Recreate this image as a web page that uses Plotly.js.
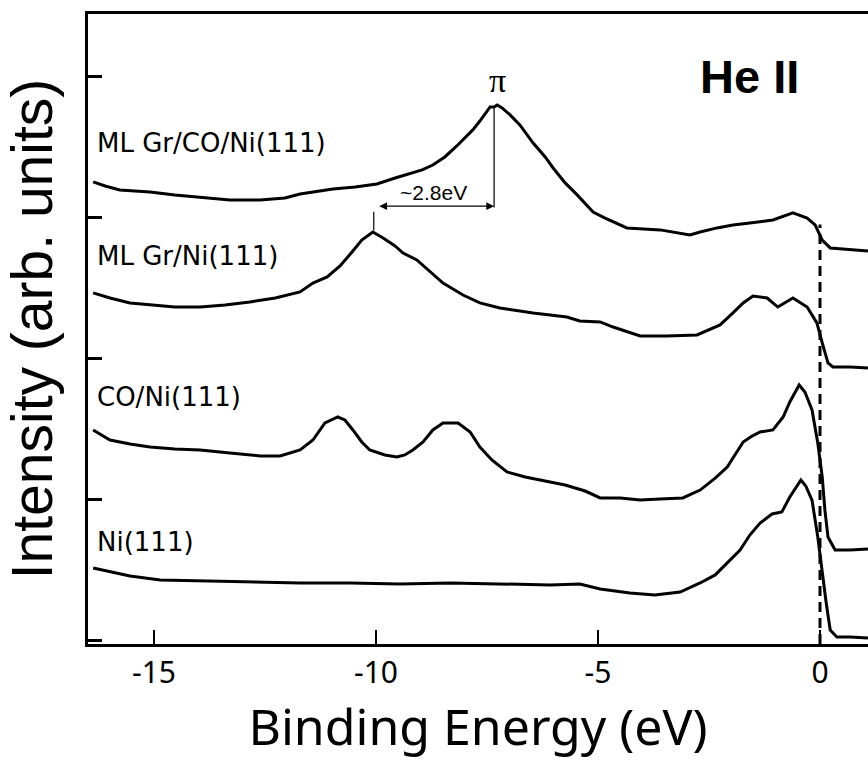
<!DOCTYPE html>
<html>
<head>
<meta charset="utf-8">
<script src="https://cdn.plot.ly/plotly-3.0.1.min.js"></script>
<style>html,body{margin:0;padding:0;background:#fff;}#chart{width:868px;height:762px;}</style>
</head>
<body>
<div id="chart"></div>
<script>
// Binding energy (eV) and intensity (arb. units, stacked with offsets)
const niX = [-16.37,-15.99,-15.54,-14.86,-13.96,-12.84,-11.71,-10.59,-9.46,-8.33,-7.21,-6.08,-5.41,-4.95,-4.28,-3.72,-3.15,-2.70,-2.36,-2.09,-1.80,-1.58,-1.35,-1.08,-0.86,-0.68,-0.54,-0.43,-0.32,-0.18,-0.05,0.05,0.14,0.23,0.38,0.68,1.08];
const niY = [0.514,0.486,0.457,0.429,0.422,0.415,0.408,0.408,0.401,0.408,0.401,0.394,0.401,0.365,0.337,0.323,0.344,0.408,0.465,0.550,0.642,0.748,0.833,0.897,0.911,1.018,1.089,1.138,1.096,0.996,0.734,0.479,0.266,0.074,0.025,0.025,0.018];

const coX = [-16.37,-15.99,-15.54,-15.09,-14.53,-13.96,-13.29,-12.61,-12.16,-11.71,-11.42,-11.15,-10.86,-10.70,-10.52,-10.32,-10.14,-9.80,-9.53,-9.35,-9.17,-8.94,-8.72,-8.49,-8.15,-7.88,-7.66,-7.39,-7.05,-6.64,-6.19,-5.74,-5.29,-4.95,-4.50,-4.05,-3.60,-3.09,-2.70,-2.36,-2.09,-1.87,-1.73,-1.53,-1.35,-1.06,-0.83,-0.68,-0.56,-0.47,-0.34,-0.18,-0.05,0.05,0.11,0.18,0.34,0.68,1.08];
const coY = [1.493,1.422,1.394,1.372,1.358,1.351,1.330,1.309,1.309,1.351,1.422,1.543,1.585,1.564,1.493,1.408,1.351,1.316,1.301,1.316,1.351,1.408,1.493,1.543,1.543,1.479,1.372,1.280,1.195,1.160,1.131,1.103,1.060,1.011,1.011,0.996,1.004,1.011,1.067,1.152,1.230,1.337,1.408,1.450,1.479,1.493,1.585,1.692,1.762,1.812,1.762,1.635,1.401,1.160,0.926,0.734,0.642,0.642,0.649];

const grX = [-16.37,-15.99,-15.54,-15.09,-14.53,-13.96,-13.40,-12.84,-12.27,-11.71,-11.42,-11.10,-10.81,-10.54,-10.32,-10.07,-9.84,-9.57,-9.39,-9.08,-8.78,-8.49,-8.04,-7.66,-7.21,-6.46,-5.70,-5.41,-4.95,-4.66,-4.05,-3.45,-2.77,-2.25,-1.96,-1.73,-1.51,-1.19,-0.95,-0.61,-0.29,-0.07,0.05,0.18,0.29,0.68,1.08];
const grY = [2.465,2.429,2.394,2.379,2.365,2.365,2.379,2.401,2.429,2.472,2.535,2.578,2.656,2.755,2.840,2.897,2.855,2.798,2.748,2.699,2.613,2.535,2.450,2.394,2.358,2.323,2.294,2.266,2.259,2.223,2.160,2.160,2.167,2.238,2.323,2.394,2.443,2.429,2.365,2.429,2.365,2.252,2.110,1.968,1.940,1.940,1.933];

const grcoX = [-16.37,-16.10,-15.77,-15.09,-14.53,-13.96,-13.29,-12.61,-12.05,-11.71,-10.97,-10.47,-9.98,-9.57,-9.23,-8.96,-8.72,-8.45,-8.18,-8.00,-7.82,-7.66,-7.52,-7.43,-7.34,-7.27,-7.16,-6.98,-6.76,-6.46,-6.19,-6.01,-5.74,-5.47,-5.11,-4.84,-4.35,-3.60,-2.93,-2.70,-2.32,-1.96,-1.58,-1.06,-0.61,-0.29,-0.11,0.05,0.23,0.68,1.08];
const grcoY = [3.252,3.223,3.195,3.181,3.160,3.145,3.124,3.124,3.138,3.167,3.202,3.216,3.238,3.280,3.309,3.337,3.372,3.429,3.507,3.564,3.621,3.684,3.748,3.784,3.784,3.798,3.777,3.727,3.656,3.528,3.429,3.351,3.245,3.160,3.039,2.996,2.926,2.912,2.876,2.897,2.926,2.947,2.961,2.982,3.032,2.996,2.947,2.840,2.784,2.770,2.762];

const seriesNames = ["Ni(111)", "CO/Ni(111)", "ML Gr/Ni(111)", "ML Gr/CO/Ni(111)"];
const labelY = [0.70, 1.73, 2.73, 3.53];
const labelX = -16.33;
const yTicks = [0, 1, 2, 3, 4];
const xTicks = [-15, -10, -5, 0];
const xTickText = ["-15", "-10", "-5", "0"];

// annotation marks (π peak, Gr/Ni peak, separation, Fermi level)
const piPeakX = -7.34, grPeakX = -10.05;
const arrowY = 3.08;
const fermiTop = 2.95;

const xs = [niX, coX, grX, grcoX];
const ys = [niY, coY, grY, grcoY];
const traces = xs.map((x, i) => ({
  x: x, y: ys[i], type: 'scatter', mode: 'lines', name: seriesNames[i],
  line: {color: '#000', width: 3}, showlegend: false, hoverinfo: 'skip'
}));

const labelFont = {family: 'DejaVu Sans', size: 26, color: '#000'};
const annotations = seriesNames.map((t, i) => ({
  x: labelX, y: labelY[i], xref: 'x', yref: 'y', text: t, showarrow: false,
  xanchor: 'left', yanchor: 'middle', font: labelFont
}));
annotations.push({x: piPeakX + 0.07, y: 3.97, xref: 'x', yref: 'y', text: 'π', showarrow: false,
  xanchor: 'center', yanchor: 'middle', font: {family: 'Liberation Serif', size: 34, color: '#000'}});
annotations.push({x: (piPeakX + grPeakX) / 2, y: 3.18, xref: 'x', yref: 'y', text: '~2.8eV', showarrow: false,
  xanchor: 'center', yanchor: 'middle', font: {family: 'Liberation Sans', size: 21, color: '#000'}});
annotations.push({x: piPeakX, y: arrowY, ax: grPeakX + 0.09, ay: arrowY, xref: 'x', yref: 'y', axref: 'x', ayref: 'y',
  text: '', showarrow: true, arrowside: 'end+start', arrowhead: 2, arrowsize: 1.3, arrowwidth: 1.2, arrowcolor: '#000'});
annotations.push({x: -1.58, y: 4.0, xref: 'x', yref: 'y', text: 'He II', showarrow: false,
  xanchor: 'center', yanchor: 'middle', font: {family: 'Liberation Sans', size: 47, color: '#000', weight: 'bold'}});

const shapes = [
  {type: 'line', xref: 'x', yref: 'y', x0: piPeakX, x1: piPeakX, y0: 3.07, y1: 3.78, line: {color: '#000', width: 1.2}},
  {type: 'line', xref: 'x', yref: 'y', x0: grPeakX, x1: grPeakX, y0: 2.91, y1: 3.04, line: {color: '#000', width: 1.2}},
  {type: 'line', xref: 'x', yref: 'y', x0: 0, x1: 0, y0: -0.025, y1: fermiTop, line: {color: '#000', width: 3, dash: '10px,6px'}}
];

const layout = {
  width: 868, height: 762,
  margin: {l: 88, r: 0, t: 14, b: 118, pad: 0},
  paper_bgcolor: '#fff', plot_bgcolor: '#fff',
  showlegend: false,
  xaxis: {
    range: [-16.486, 1.081], tickvals: xTicks, ticktext: xTickText,
    ticks: 'inside', ticklen: 14, tickwidth: 2.5, tickcolor: '#000',
    showline: true, linewidth: 3, linecolor: '#000', mirror: true,
    showgrid: false, zeroline: false,
    tickfont: {family: 'Noto Sans', size: 30, color: '#000'},
    title: {text: 'Binding Energy (eV)', font: {family: 'Noto Sans', size: 50, color: '#000'}, standoff: 18}
  },
  yaxis: {
    range: [-0.0248, 4.443], tickvals: yTicks, showticklabels: false,
    ticks: 'inside', ticklen: 14, tickwidth: 2.5, tickcolor: '#000',
    showline: true, linewidth: 3, linecolor: '#000', mirror: false,
    showgrid: false, zeroline: false,
    title: {text: 'Intensity (arb. units)', font: {family: 'Liberation Sans', size: 57, color: '#000'}, standoff: 22}
  },
  annotations: annotations,
  shapes: shapes
};

Plotly.newPlot('chart', traces, layout, {staticPlot: true, displayModeBar: false});
</script>
</body>
</html>
